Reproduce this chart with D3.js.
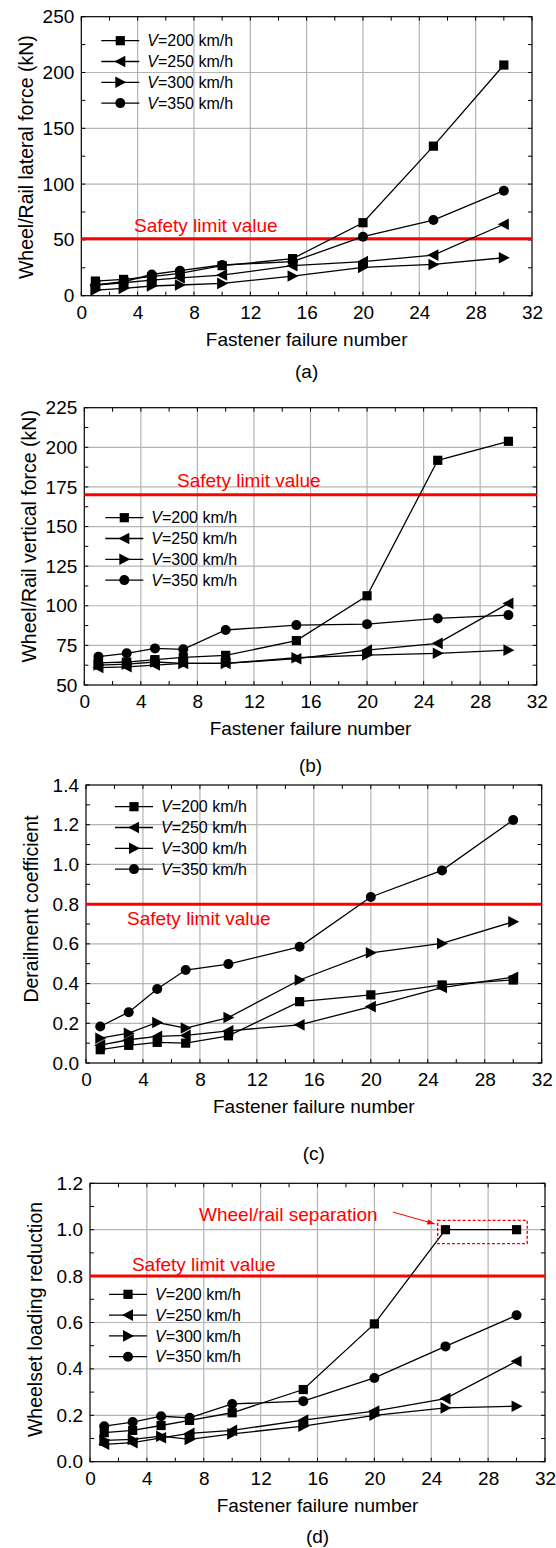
<!DOCTYPE html>
<html lang="en">
<head>
<meta charset="utf-8">
<title>Fastener failure - safety indices</title>
<script src="https://cdn.jsdelivr.net/npm/d3@7"></script>
<style>
html, body { margin: 0; padding: 0; background: #fff; }
svg { display: block; font-family: "Liberation Sans", Arial, sans-serif; }
.grid line { stroke: #b4b4b4; stroke-width: 1.2; }
.minor line { stroke: #000; stroke-width: 1; }
.axis text { font-size: 19px; fill: #000; }
.series path.ln { fill: none; stroke: #000; stroke-width: 1.3; }
</style>
</head>
<body>
<div id="chart"></div>
<script>
var W = 556, H = 1548;

// x values shared by all panels
var fastenerNum = [1, 3, 5, 7, 10, 15, 20, 25, 30];
var speedLabels = ["=200 km/h", "=250 km/h", "=300 km/h", "=350 km/h"];
var markerTypes = ["square", "left", "right", "circle"];

// (a) wheel/rail lateral force, kN
var lateral200 = [13.1, 14.6, 17, 20, 26.9, 33.2, 65.4, 134, 206.7];
var lateral250 = [9.6, 11.6, 14, 16, 18.5, 26.9, 30.5, 36.4, 64];
var lateral300 = [5, 6.6, 8.7, 9.6, 11, 17.6, 25.4, 28, 34];
var lateral350 = [9.6, 12.5, 19, 22.4, 27.5, 30.5, 52.9, 67.8, 94.1];

// (b) wheel/rail vertical force, kN
var vertical200 = [64, 64.5, 66, 67.4, 68.7, 78, 106.3, 191.8, 203.8];
var vertical250 = [61, 61.5, 62.6, 63.6, 63.6, 66.6, 72, 76.3, 101.5];
var vertical300 = [62.6, 63.2, 64.5, 63.6, 63.6, 67.2, 68.9, 70, 72];
var vertical350 = [67.9, 70, 73.1, 72.5, 84.7, 87.8, 88.4, 92, 94.1];

// (c) derailment coefficient
var derail200 = [0.067, 0.089, 0.104, 0.1, 0.137, 0.309, 0.343, 0.393, 0.418];
var derail250 = [0.09, 0.117, 0.134, 0.139, 0.162, 0.192, 0.284, 0.38, 0.432];
var derail300 = [0.125, 0.15, 0.204, 0.176, 0.229, 0.418, 0.555, 0.602, 0.711];
var derail350 = [0.184, 0.256, 0.373, 0.468, 0.498, 0.585, 0.836, 0.97, 1.224];

// (d) wheelset loading reduction
var unload200 = [0.125, 0.135, 0.156, 0.178, 0.211, 0.311, 0.594, 1.0, 1.0];
var unload250 = [0.075, 0.082, 0.103, 0.122, 0.135, 0.179, 0.218, 0.272, 0.433];
var unload300 = [0.092, 0.096, 0.11, 0.096, 0.12, 0.153, 0.2, 0.232, 0.239];
var unload350 = [0.153, 0.171, 0.196, 0.189, 0.249, 0.261, 0.361, 0.497, 0.631];

var limitValues = [51, 170, 0.8, 0.8];
var yTitles = ["Wheel/Rail lateral force (kN)", "Wheel/Rail vertical force (kN)",
               "Derailment coefficient", "Wheelset loading reduction"];
var captions = ["(a)", "(b)", "(c)", "(d)"];
var xTitle = "Fastener failure number";

// layout of each panel (pixels)
var panels = [
  {left: 81.3, top: 16.7, right: 532, bottom: 295.7, yDomain: [0, 250], yStep: 50, fmt: d3.format("d"),
   series: [lateral200, lateral250, lateral300, lateral350],
   limitText: [3.74, 57], legend: {dx: 20, dy: 24}, capDy: 82, titleDy: 1},
  {left: 84.3, top: 407.7, right: 536.7, bottom: 685, yDomain: [50, 225], yStep: 25, fmt: d3.format("d"),
   series: [vertical200, vertical250, vertical300, vertical350],
   limitText: [6.56, 175.1], legend: {dx: 21, dy: 110}, capDy: 87, titleDy: -10},
  {left: 86, top: 785, right: 541.7, bottom: 1063, yDomain: [0, 1.4], yStep: 0.2, fmt: d3.format(".1f"),
   series: [derail200, derail250, derail300, derail350],
   limitText: [2.88, 0.695], legend: {dx: 29, dy: 21.7}, capDy: 97, titleDy: -15},
  {left: 90, top: 1183.3, right: 545, bottom: 1461.7, yDomain: [0, 1.2], yStep: 0.2, fmt: d3.format(".1f"),
   series: [unload200, unload250, unload300, unload350],
   limitText: [2.95, 0.822], legend: {dx: 19, dy: 111}, capDy: 81, titleDy: -3}
];

var svg = d3.select("#chart").append("svg").attr("width", W).attr("height", H);

function marker(g, type, cx, cy) {
  if (type == "square") {
    g.append("rect").attr("x", cx - 4.6).attr("y", cy - 4.6).attr("width", 9.2).attr("height", 9.2).attr("fill", "#000");
  } else if (type == "circle") {
    g.append("circle").attr("cx", cx).attr("cy", cy).attr("r", 5).attr("fill", "#000");
  } else if (type == "left") {
    g.append("path").attr("d", "M" + (cx - 6) + "," + cy + "L" + (cx + 5) + "," + (cy - 5.8) + "L" + (cx + 5) + "," + (cy + 5.8) + "Z").attr("fill", "#000");
  } else {
    g.append("path").attr("d", "M" + (cx + 6) + "," + cy + "L" + (cx - 5) + "," + (cy - 5.8) + "L" + (cx - 5) + "," + (cy + 5.8) + "Z").attr("fill", "#000");
  }
}

panels.forEach(function(p, i) {
  var x = d3.scaleLinear().domain([0, 32]).range([p.left, p.right]);
  var y = d3.scaleLinear().domain(p.yDomain).range([p.bottom, p.top]);
  var g = svg.append("g");
  var eps = 1e-9;
  var xMajor = d3.range(0, 32 + eps, 4);
  var xMinor = d3.range(0, 32 + eps, 2);
  var yMajor = d3.range(p.yDomain[0], p.yDomain[1] + p.yStep / 2, p.yStep);
  var yMinor = d3.range(p.yDomain[0], p.yDomain[1] + p.yStep / 4, p.yStep / 2);

  // gridlines
  var grid = g.append("g").attr("class", "grid");
  grid.selectAll(".gx").data(xMajor.slice(1, -1)).enter().append("line")
    .attr("x1", d => x(d)).attr("x2", d => x(d)).attr("y1", p.top).attr("y2", p.bottom);
  grid.selectAll(".gy").data(yMajor.slice(1, -1)).enter().append("line")
    .attr("y1", d => y(d)).attr("y2", d => y(d)).attr("x1", p.left).attr("x2", p.right);

  // inward ticks on all four sides
  var minor = g.append("g").attr("class", "minor");
  xMinor.forEach(function(v) {
    minor.append("line").attr("x1", x(v)).attr("x2", x(v)).attr("y1", p.bottom).attr("y2", p.bottom - 4);
    minor.append("line").attr("x1", x(v)).attr("x2", x(v)).attr("y1", p.top).attr("y2", p.top + 4);
  });
  yMinor.forEach(function(v) {
    minor.append("line").attr("y1", y(v)).attr("y2", y(v)).attr("x1", p.left).attr("x2", p.left + 4);
    minor.append("line").attr("y1", y(v)).attr("y2", y(v)).attr("x1", p.right).attr("x2", p.right - 4);
  });

  g.append("rect").attr("x", p.left).attr("y", p.top)
    .attr("width", p.right - p.left).attr("height", p.bottom - p.top)
    .attr("fill", "none").attr("stroke", "#000").attr("stroke-width", 1.2);

  // tick labels
  var xa = g.append("g").attr("class", "axis").attr("transform", "translate(0," + p.bottom + ")")
    .call(d3.axisBottom(x).tickValues(xMajor).tickSize(0).tickPadding(9.5));
  var ya = g.append("g").attr("class", "axis").attr("transform", "translate(" + p.left + ",0)")
    .call(d3.axisLeft(y).tickValues(yMajor).tickFormat(p.fmt).tickSize(0).tickPadding(7));
  xa.select(".domain").remove();
  ya.select(".domain").remove();
  g.selectAll(".axis text").attr("font-family", null).attr("font-size", null);

  // axis titles
  g.append("text").attr("x", (p.left + p.right) / 2).attr("y", p.bottom + 50)
    .attr("text-anchor", "middle").attr("font-size", 19).text(xTitle);
  g.append("text").attr("transform", "translate(" + (p.left - 48) + "," + ((p.top + p.bottom) / 2 + p.titleDy) + ") rotate(-90)")
    .attr("text-anchor", "middle").attr("font-size", 19.5).text(yTitles[i]);
  g.append("text").attr("x", (p.left + p.right) / 2).attr("y", p.bottom + p.capDy)
    .attr("text-anchor", "middle").attr("font-size", 19).text(captions[i]);

  // safety limit
  g.append("line").attr("x1", p.left).attr("x2", p.right)
    .attr("y1", y(limitValues[i])).attr("y2", y(limitValues[i]))
    .attr("stroke", "#ff0000").attr("stroke-width", 3);
  g.append("text").attr("x", x(p.limitText[0])).attr("y", y(p.limitText[1]))
    .attr("fill", "#ff0000").attr("font-size", 19).text("Safety limit value");

  // series
  var line = d3.line().x((d, k) => x(fastenerNum[k])).y(d => y(d));
  var sg = g.append("g").attr("class", "series");
  p.series.forEach(function(vals, s) {
    sg.append("path").attr("class", "ln").attr("d", line(vals));
    vals.forEach(function(v, k) { marker(sg, markerTypes[s], x(fastenerNum[k]), y(v)); });
  });

  // legend
  var lg = g.append("g").attr("transform", "translate(" + (p.left + p.legend.dx) + "," + (p.top + p.legend.dy) + ")");
  speedLabels.forEach(function(lab, s) {
    var ry = s * 20.8;
    lg.append("line").attr("x1", 0).attr("x2", 38).attr("y1", ry).attr("y2", ry)
      .attr("stroke", "#000").attr("stroke-width", 1.3);
    marker(lg, markerTypes[s], 19, ry);
    var t = lg.append("text").attr("x", 46).attr("y", ry).attr("dy", "0.36em").attr("font-size", 16);
    t.append("tspan").attr("font-style", "italic").text("V");
    t.append("tspan").text(lab);
  });

  // wheel/rail separation note on panel (d)
  if (i == 3) {
    var sep = {x0: 24.45, x1: 30.75, y0: 0.94, y1: 1.04};
    g.append("rect").attr("x", x(sep.x0)).attr("y", y(sep.y1))
      .attr("width", x(sep.x1) - x(sep.x0)).attr("height", y(sep.y0) - y(sep.y1))
      .attr("fill", "none").attr("stroke", "#ff0000").attr("stroke-width", 1.4).attr("stroke-dasharray", "3,2");
    var a0 = [21.3, 1.076], a1 = [24.25, 1.025];
    g.append("line").attr("x1", x(a0[0])).attr("y1", y(a0[1])).attr("x2", x(a1[0])).attr("y2", y(a1[1]))
      .attr("stroke", "#ff0000").attr("stroke-width", 1);
    var ang = Math.atan2(y(a1[1]) - y(a0[1]), x(a1[0]) - x(a0[0]));
    var hx = x(a1[0]), hy = y(a1[1]);
    g.append("path").attr("d", "M" + hx + "," + hy +
      "L" + (hx - 8 * Math.cos(ang - 0.35)) + "," + (hy - 8 * Math.sin(ang - 0.35)) +
      "L" + (hx - 8 * Math.cos(ang + 0.35)) + "," + (hy - 8 * Math.sin(ang + 0.35)) + "Z")
      .attr("fill", "#ff0000");
    g.append("text").attr("x", x(7.67)).attr("y", y(1.037))
      .attr("fill", "#ff0000").attr("font-size", 19).text("Wheel/rail separation");
  }
});
</script>
</body>
</html>
